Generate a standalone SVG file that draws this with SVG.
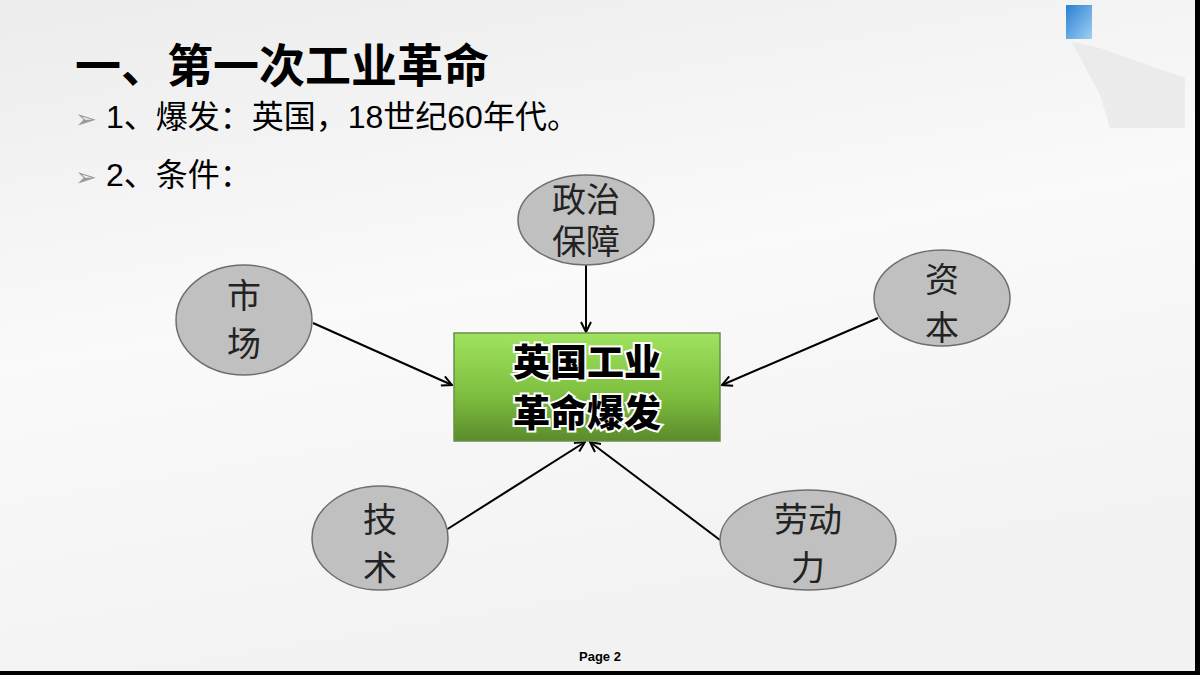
<svg xmlns="http://www.w3.org/2000/svg" width="1200" height="675" viewBox="0 0 1200 675">
<defs>
<linearGradient id="bg" x1="0" y1="0" x2="0.3" y2="1"><stop offset="0" stop-color="#ececec"/><stop offset="0.5" stop-color="#fafafa"/><stop offset="1" stop-color="#f2f2f2"/></linearGradient>
<linearGradient id="gr" x1="0" y1="0" x2="0" y2="1"><stop offset="0" stop-color="#9fe35f"/><stop offset="0.6" stop-color="#7dbd3e"/><stop offset="1" stop-color="#5b8a2c"/></linearGradient>
<linearGradient id="sky" x1="0" y1="0" x2="1" y2="1"><stop offset="0" stop-color="#2a7fd0"/><stop offset="1" stop-color="#9fd0f5"/></linearGradient>
<marker id="ah" markerWidth="12" markerHeight="12" refX="11" refY="6" orient="auto" markerUnits="userSpaceOnUse"><path d="M1,1 L11,6 L1,11" fill="none" stroke="#000" stroke-width="2"/></marker>
<style>
.e{fill:#c0c0c0;stroke:#6e6e6e;stroke-width:1.5}
.t{font-family:"Liberation Sans","Noto Sans CJK SC",sans-serif;font-size:34px;fill:#222;text-anchor:middle}
.h{font-family:"Liberation Sans","Noto Sans CJK SC",sans-serif;fill:#000}
.c{stroke:#000;stroke-width:2;fill:none;marker-end:url(#ah)}
</style>
</defs>
<rect width="1200" height="675" fill="url(#bg)"/>
<rect x="1195" y="0" width="5" height="675" fill="#000"/>
<rect x="0" y="671" width="1200" height="4" fill="#000"/>
<g id="decor">
<rect x="1066" y="5" width="26" height="34" fill="url(#sky)"/>
<path d="M1072,42 L1100,48 L1185,78 L1185,128 L1110,128 L1100,95 Z" fill="#e8e8e8" opacity="0.8"/>
</g>
<text class="h" x="75" y="82" font-size="46" font-weight="bold">一、第一次工业革命</text>
<text class="h" x="75" y="128" font-size="32"><tspan fill="#999" font-size="26">➢</tspan><tspan fill="#000"> 1、爆发：英国，18世纪60年代。</tspan></text>
<text class="h" x="75" y="186" font-size="32"><tspan fill="#999" font-size="26">➢</tspan><tspan fill="#000"> 2、条件：</tspan></text>
<g id="connectors">
<line class="c" x1="586" y1="265" x2="586" y2="332"/>
<line class="c" x1="313" y1="323" x2="452" y2="385"/>
<line class="c" x1="878" y1="318" x2="722" y2="385"/>
<line class="c" x1="446" y1="530" x2="585" y2="442"/>
<line class="c" x1="720" y1="540" x2="590" y2="442"/>
</g>
<g id="center">
<rect x="454" y="333" width="266" height="108" fill="url(#gr)" stroke="#6a8f4a" stroke-width="1.5"/>
<text x="587" y="376" font-family="'Noto Sans CJK SC',sans-serif" font-size="37" font-weight="900" text-anchor="middle" fill="#000" stroke="#fff" stroke-width="4" paint-order="stroke">英国工业</text>
<text x="587" y="427" font-family="'Noto Sans CJK SC',sans-serif" font-size="37" font-weight="900" text-anchor="middle" fill="#000" stroke="#fff" stroke-width="4" paint-order="stroke">革命爆发</text>
</g>
<g id="zhengzhi"><ellipse class="e" cx="586" cy="220" rx="68" ry="45"/><text class="t" x="586" y="212">政治</text><text class="t" x="586" y="254">保障</text></g>
<g id="shichang"><ellipse class="e" cx="244" cy="320" rx="68" ry="55"/><text class="t" x="244" y="308">市</text><text class="t" x="244" y="356">场</text></g>
<g id="ziben"><ellipse class="e" cx="942" cy="298" rx="68" ry="48"/><text class="t" x="942" y="292">资</text><text class="t" x="942" y="340">本</text></g>
<g id="jishu"><ellipse class="e" cx="380" cy="538" rx="68" ry="52"/><text class="t" x="380" y="532">技</text><text class="t" x="380" y="580">术</text></g>
<g id="laodongli"><ellipse class="e" cx="808" cy="540" rx="88" ry="50"/><text class="t" x="808" y="532">劳动</text><text class="t" x="808" y="580">力</text></g>
<text class="h" x="600" y="661" font-size="13" font-weight="bold" text-anchor="middle">Page 2</text>
</svg>
